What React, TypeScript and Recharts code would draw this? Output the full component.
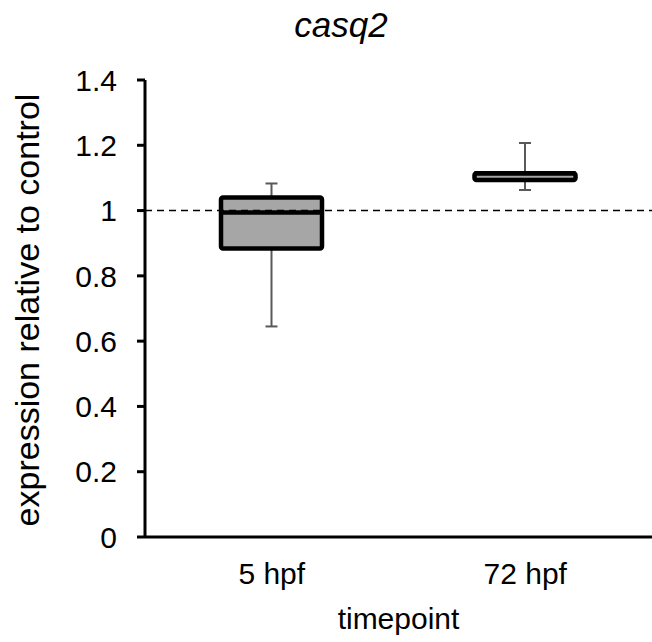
import { ComposedChart, Bar, XAxis, YAxis, ReferenceLine } from "recharts";

// values
const timepoints = ["5 hpf", "72 hpf"];
const whiskerLow = [0.645, 1.063];
const quartile1 = [0.884, 1.094];
const medians = [0.994, 1.114];
const quartile3 = [1.04, 1.114];
const whiskerHigh = [1.083, 1.207];
const yTicks = [0, 0.2, 0.4, 0.6, 0.8, 1, 1.2, 1.4];
const controlLevel = 1;

const FONT = "'Liberation Sans', Arial, sans-serif";
const BOX_FILL = "#a6a6a6";
const WHISKER = "#595959";

const rows = timepoints.map((t, i) => ({
  name: t,
  min: whiskerLow[i],
  q1: quartile1[i],
  median: medians[i],
  q3: quartile3[i],
  max: whiskerHigh[i],
}));

// draws the box from the range bar [min, max] the library already placed
function BoxShape(props: any) {
  const { x, y, width, height, payload } = props;
  const span = payload.max - payload.min;
  const py = (v: number) => y + ((payload.max - v) / span) * height;
  const cx = x + width / 2;
  const cap = 6;
  return (
    <g>
      <line x1={cx} x2={cx} y1={py(payload.max)} y2={py(payload.min)} stroke={WHISKER} strokeWidth={2} />
      <line x1={cx - cap} x2={cx + cap} y1={py(payload.max)} y2={py(payload.max)} stroke={WHISKER} strokeWidth={2} />
      <line x1={cx - cap} x2={cx + cap} y1={py(payload.min)} y2={py(payload.min)} stroke={WHISKER} strokeWidth={2} />
      <rect
        x={x}
        y={py(payload.q3)}
        width={width}
        height={py(payload.q1) - py(payload.q3)}
        fill={BOX_FILL}
        stroke="#000"
        strokeWidth={4.5}
        rx={2}
      />
      <line x1={x} x2={x + width} y1={py(payload.median)} y2={py(payload.median)} stroke="#000" strokeWidth={4.5} />
    </g>
  );
}

export default function App() {
  return (
    <div style={{ position: "absolute", left: 0, top: 0, width: 652, height: 642, background: "#fff" }}>
      <ComposedChart
        width={652}
        height={642}
        data={rows}
        margin={{ top: 80, right: 0, bottom: 0, left: 0 }}
        style={{ fontFamily: FONT }}
      >
        <text x={341} y={37} textAnchor="middle" fontSize={35} fontStyle="italic" fontFamily={FONT} fill="#000">
          casq2
        </text>
        <XAxis
          dataKey="name"
          height={105}
          tickLine={false}
          axisLine={{ stroke: "#000", strokeWidth: 3 }}
          tick={{ fill: "#000", fontSize: 30, fontFamily: FONT }}
          tickMargin={20}
          label={{ value: "timepoint", position: "insideBottom", offset: 13, fill: "#000", fontSize: 30, fontFamily: FONT }}
        />
        <YAxis
          width={145}
          domain={[0, 1.4]}
          ticks={yTicks}
          interval={0}
          tickSize={8}
          tickMargin={20}
          axisLine={{ stroke: "#000", strokeWidth: 3 }}
          tickLine={{ stroke: "#000", strokeWidth: 3 }}
          tick={{ fill: "#000", fontSize: 30, fontFamily: FONT }}
          label={{
            content: () => (
              <text
                transform="translate(39,310) rotate(-90)"
                textAnchor="middle"
                fontSize={34}
                fontFamily={FONT}
                fill="#000"
              >
                expression relative to control
              </text>
            ),
          }}
        />
        <Bar
          dataKey={(d: any) => [d.min, d.max]}
          barSize={101}
          shape={BoxShape}
          isAnimationActive={false}
        />
        <ReferenceLine y={controlLevel} stroke="#000" strokeWidth={1.5} strokeDasharray="7 5" />
      </ComposedChart>
    </div>
  );
}
